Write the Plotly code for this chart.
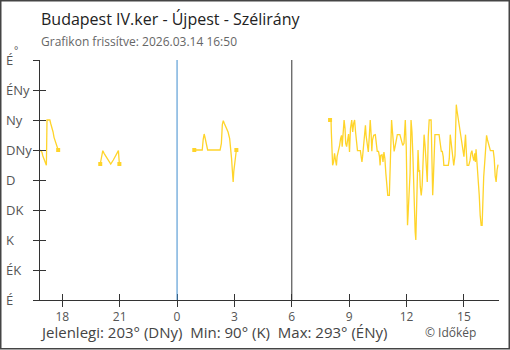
import pandas as pd
import plotly.graph_objects as go

# ---------------- data ----------------
start_time = "2026-03-13 16:50"
end_time = "2026-03-14 16:50"

# minutes since start_time / wind direction in degrees
seg1_min = [0, 6, 9, 13, 16, 20, 22, 31, 34, 38, 41, 44, 47, 50, 53, 57]
seg1_deg = [225, 222, 216, 210, 207, 202, 270, 270, 264, 258, 252, 244, 240, 234, 230, 225]

seg2_min = [189, 197, 201, 208, 215, 222, 230, 238, 246, 249]
seg2_deg = [204, 224, 220, 214, 208, 204, 210, 217, 224, 204]

seg3_min = [484, 509, 512, 515, 518, 521, 524, 526, 565, 569, 572, 575, 578, 582,
            586, 590, 595, 598, 601, 604, 606, 608, 612, 614, 616]
seg3_deg = [225, 225, 241, 249, 243, 236, 228, 225, 225, 235, 263, 269, 265, 261,
            256, 252, 242, 231, 212, 190, 177, 193, 207, 220, 225]

seg4_min = [910, 913, 914, 916, 918, 921, 924, 927, 930, 932, 937, 940, 943, 946, 948,
            951, 954, 957, 959, 962, 965, 968, 971, 974, 978, 981, 984, 987, 990, 993,
            996, 1005, 1007, 1010, 1012, 1015, 1018, 1021, 1023, 1026, 1030, 1033, 1036,
            1039, 1041, 1043, 1047, 1052, 1055, 1058, 1062, 1065, 1067, 1069, 1073, 1076,
            1079, 1082, 1085, 1088, 1091, 1096, 1098, 1101, 1103, 1105, 1108, 1111, 1114,
            1118, 1121, 1129, 1132, 1135, 1138, 1142, 1145, 1146, 1149, 1151, 1153, 1155,
            1158, 1161, 1164, 1167, 1170, 1173, 1177, 1179, 1181, 1183, 1186, 1189, 1191,
            1193, 1196, 1199, 1202, 1205, 1208, 1212, 1215, 1218, 1221, 1227, 1229, 1232,
            1234, 1236, 1239, 1252, 1255, 1259, 1262, 1265, 1267, 1281, 1284, 1287, 1289,
            1293, 1296, 1298, 1302, 1304, 1306, 1308, 1311, 1314, 1317, 1320, 1323, 1327,
            1330, 1333, 1335, 1337, 1340, 1345, 1349, 1352, 1355, 1358, 1361, 1364, 1366,
            1368, 1371, 1374, 1378, 1381, 1384, 1387, 1389, 1392, 1396, 1399, 1401, 1404,
            1407, 1410, 1413, 1422, 1425, 1428, 1431, 1434, 1437]
seg4_deg = [270, 270, 252, 220, 202, 207, 220, 210, 202, 215, 225, 232, 242, 247, 230,
            245, 270, 257, 235, 230, 240, 249, 222, 257, 270, 252, 265, 270, 252, 236,
            224, 224, 218, 207, 215, 235, 257, 262, 247, 235, 222, 245, 270,
            247, 223, 240, 247, 248, 236, 223, 223, 215, 202, 217, 218, 207,
            222, 212, 190, 170, 157, 157, 185, 241, 270, 257, 235, 223, 230,
            240, 248, 248, 241, 236, 232, 235, 257, 270, 230, 152, 112, 130,
            162, 190, 270, 252, 215, 147, 102, 90, 122, 190, 225, 192, 195,
            170, 157, 172, 212, 248, 232, 202, 177, 245, 270, 270, 212, 157,
            180, 225, 248, 248, 237, 223, 223, 215, 202, 202, 212, 248, 240,
            225, 210, 202, 217, 256, 293, 285, 275, 265, 257, 251, 242, 227,
            215, 235, 248, 227, 202, 202, 209, 220, 224, 215, 209, 220, 207,
            226, 207, 190, 157, 127, 112, 112, 145, 185, 212, 236, 247, 240,
            234, 228, 224, 224, 212, 186, 177, 195, 203]

segments = [(seg1_min, seg1_deg), (seg2_min, seg2_deg), (seg3_min, seg3_deg), (seg4_min, seg4_deg)]

dir_vals = [0, 45, 90, 135, 180, 225, 270, 315, 360]
dir_labels = ["É", "ÉK", "K", "DK", "D", "DNy", "Ny", "ÉNy", "É"]

x_tick_times = ["2026-03-13 18:00", "2026-03-13 21:00", "2026-03-14 00:00", "2026-03-14 03:00",
                "2026-03-14 06:00", "2026-03-14 09:00", "2026-03-14 12:00", "2026-03-14 15:00"]
x_tick_labels = ["18", "21", "0", "3", "6", "9", "12", "15"]

midnight = "2026-03-14 00:00"
six_am = "2026-03-14 06:00"

title_text = "Budapest IV.ker - Újpest - Szélirány"
subtitle_text = "Grafikon frissítve: 2026.03.14 16:50"
summary_text = "Jelenlegi: 203° (DNy)  Min: 90° (K)  Max: 293° (ÉNy)"
credit_text = "© Időkép"

# ---------------- build ----------------
t0 = pd.Timestamp(start_time)
xs, ys = [], []
mx, my = [], []
for i, (mins, degs) in enumerate(segments):
    times = [t0 + pd.Timedelta(minutes=m) for m in mins]
    xs += times + [None]
    ys += degs + [None]
    if i > 0:
        mx.append(times[0]); my.append(degs[0])
    if i < len(segments) - 1:
        mx.append(times[-1]); my.append(degs[-1])

W, H = 510, 350
L, R, T, B = 40, 11, 60, 50
PW, PH = W - L - R, H - T - B

def px(x):
    return (x - L) / PW

def py(y):
    return (H - B - y) / PH

LINE = "#FFD42A"
FONT = "Open Sans"

fig = go.Figure()
fig.add_trace(go.Scatter(x=xs, y=ys, mode="lines", line=dict(color=LINE, width=1.3),
                         connectgaps=False, hoverinfo="skip", showlegend=False))
fig.add_trace(go.Scatter(x=mx, y=my, mode="markers",
                         marker=dict(symbol="square", size=4, color=LINE),
                         hoverinfo="skip", showlegend=False))
# helper trace so the overlay axes (inner tick halves) are drawn
fig.add_trace(go.Scatter(x=[t0], y=[0], xaxis="x2", yaxis="y2", mode="markers",
                         marker=dict(opacity=0), hoverinfo="skip", showlegend=False))

axis_col = "#333333"
fig.update_layout(
    width=W, height=H, margin=dict(l=L, r=R, t=T, b=B),
    paper_bgcolor="white", plot_bgcolor="white",
    font=dict(family=FONT, color="#555555"),
    xaxis=dict(type="date", range=[start_time, end_time], tickmode="array",
               tickvals=x_tick_times, ticktext=x_tick_labels, ticks="outside", ticklen=6,
               tickcolor=axis_col, tickwidth=1, showline=True, linecolor=axis_col, linewidth=1,
               showgrid=False, zeroline=False, tickfont=dict(size=12, color="#555555")),
    yaxis=dict(range=[0, 360], tickmode="array", tickvals=dir_vals, showticklabels=False,
               ticks="outside", ticklen=6, tickcolor=axis_col, showline=True, linecolor=axis_col,
               linewidth=1, showgrid=False, zeroline=False),
    xaxis2=dict(type="date", range=[start_time, end_time], overlaying="x", anchor="y", side="bottom",
                tickmode="array", tickvals=x_tick_times, ticks="inside", ticklen=6,
                tickcolor=axis_col, showticklabels=False, showline=False, showgrid=False,
                zeroline=False),
    yaxis2=dict(range=[0, 360], overlaying="y", anchor="x", side="left", tickmode="array",
                tickvals=dir_vals, ticks="inside", ticklen=6, tickcolor=axis_col,
                showticklabels=False, showline=False, showgrid=False, zeroline=False),
)

shapes = [
    dict(type="line", xref="x", yref="paper", x0=midnight, x1=midnight, y0=0, y1=1,
         line=dict(color="#3f8cce", width=1)),
    dict(type="line", xref="x", yref="paper", x0=six_am, x1=six_am, y0=0, y1=1,
         line=dict(color="#333333", width=1)),
    dict(type="rect", xref="paper", yref="paper", x0=px(0.75), x1=px(509.25), y0=py(348.75),
         y1=py(0.75), line=dict(color="#444444", width=1.5)),
]
fig.update_layout(shapes=shapes)

ann = [
    dict(text=title_text, x=px(39), y=py(19), font=dict(size=16, color="#222222")),
    dict(text=subtitle_text, x=px(39), y=py(41), font=dict(size=12, color="#666666")),
    dict(text=summary_text, x=px(38), y=py(332), font=dict(size=15, color="#444444")),
    dict(text=credit_text, x=px(423), y=py(332), font=dict(size=12, color="#555555")),
    dict(text="°", x=px(12), y=py(50), font=dict(size=10, color="#555555")),
]
for v, lab in zip(dir_vals, dir_labels):
    ann.append(dict(text=lab, x=px(4), y=v, yref="y", font=dict(size=13, color="#555555")))
for a in ann:
    a.setdefault("xref", "paper")
    a.setdefault("yref", "paper")
    a.update(xanchor="left", yanchor="middle", showarrow=False)
fig.update_layout(annotations=ann)

fig.write_html("out.html")
